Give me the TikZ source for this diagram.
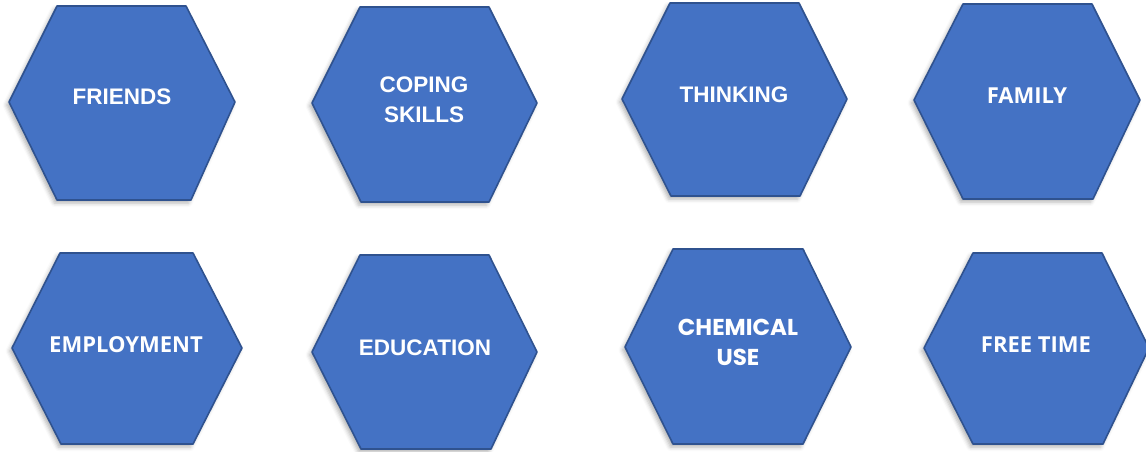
\documentclass[tikz,border=0pt]{standalone}
\usepackage{fontspec}
\setmainfont{Liberation Sans}
\newfontfamily\segoe{Open Sans}
\newfontfamily\geom{Poppins}
\usetikzlibrary{shadows.blur}
\definecolor{hexfill}{HTML}{4472C4}
\definecolor{hexline}{HTML}{2F528F}
\tikzset{
  hexcell/.style={fill=hexfill, draw=hexline, line width=1.6pt, line join=round,
    blur shadow={shadow xshift=-2.5pt, shadow yshift=-3pt, shadow blur radius=4pt, shadow opacity=30}},
  hexlabel/.style={text=white, font=\fontsize{22.5}{30}\selectfont\bfseries, align=center, inner sep=0pt},
  segoelabel/.style={hexlabel, font=\segoe\fontsize{22}{30}\selectfont\bfseries},
  geomlabel/.style={hexlabel, font=\geom\fontsize{23}{30}\selectfont\bfseries}
}
\begin{document}
\begin{tikzpicture}[x=1pt,y=-1pt]
\useasboundingbox (0,0) rectangle (1146,451);
% top row
\draw[hexcell] (9,102) -- (57,6) -- (186,6) -- (235,102) -- (191,200) -- (57,200) -- cycle;
\draw[hexcell] (312,103) -- (360,7) -- (489,7) -- (537,103) -- (489,202) -- (361,202) -- cycle;
\draw[hexcell] (622,99) -- (670,3) -- (799,3) -- (847,99) -- (800,196) -- (671,196) -- cycle;
\draw[hexcell] (914,100) -- (963,4) -- (1092,4) -- (1140,100) -- (1093,199) -- (963,199) -- cycle;
% bottom row
\draw[hexcell] (12,348) -- (60,253) -- (193,253) -- (242,348) -- (193,444) -- (61,444) -- cycle;
\draw[hexcell] (312,352) -- (360,255) -- (489,255) -- (537,352) -- (491,449) -- (361,449) -- cycle;
\draw[hexcell] (625,347) -- (673,249) -- (803,249) -- (851,347) -- (803,444) -- (673,444) -- cycle;
\draw[hexcell] (924,348) -- (973,253) -- (1102,253) -- (1149,348) -- (1103,444) -- (973,444) -- cycle;
% labels
\node[hexlabel] (friends) at (122,97) {FRIENDS};
\node[hexlabel] (coping) at (424,100) {COPING\\SKILLS};
\node[hexlabel] (thinking) at (734,95) {THINKING};
\node[segoelabel] (family) at (1027,96) {FAMILY};
\node[segoelabel] (employment) at (126,345) {EMPLOYMENT};
\node[hexlabel] (education) at (425,348) {EDUCATION};
\node[geomlabel] (chemical) at (738,342) {CHEMICAL\\USE};
\node[segoelabel] (freetime) at (1036,345) {FREE TIME};
\end{tikzpicture}
\end{document}
